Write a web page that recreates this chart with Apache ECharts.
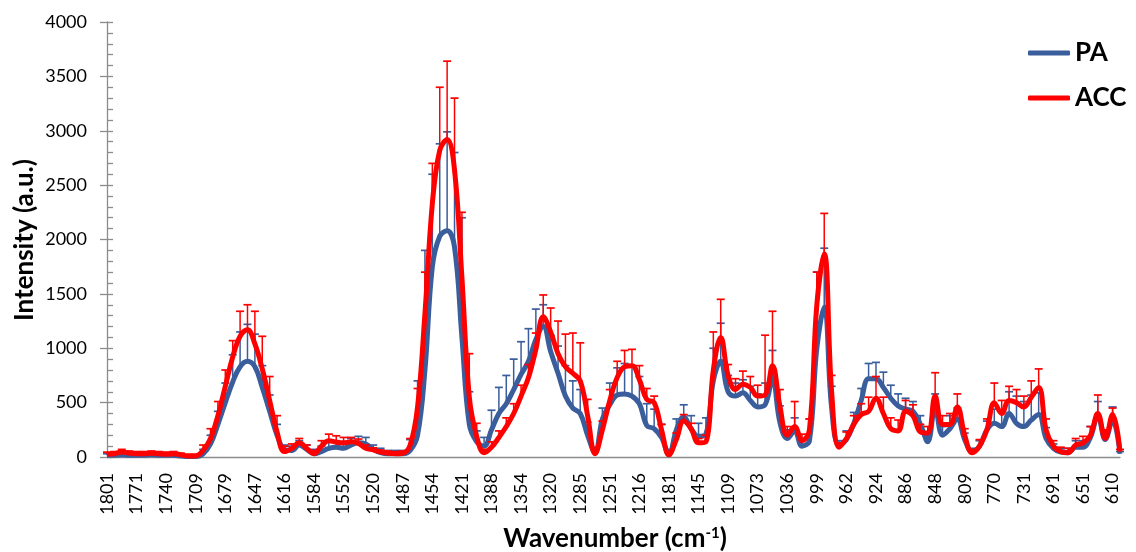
<!DOCTYPE html>
<html>
<head>
<meta charset="utf-8">
<script src="https://cdn.jsdelivr.net/npm/echarts@6/dist/echarts.min.js"></script>
<style>html,body{margin:0;padding:0;background:#fff;}#c{width:1136px;height:552px;}</style>
</head>
<body>
<div id="c"></div>
<script>
// Wavenumber tick labels (every 4th sample)
const tickLabels = ['1801','1771','1740','1709','1679','1647','1616','1584','1552','1520','1487','1454','1421','1388','1354','1320','1285','1251','1216','1181','1145','1109','1073','1036','999','962','924','886','848','809','770','731','691','651','610'];

const PA = [
15,15,20,15,15,15,20,15,15,15,
10,5,5,30,120,300,500,690,830,880,
830,640,420,200,70,60,110,70,30,50,
80,90,80,110,130,120,70,40,30,30,
30,60,200,800,1750,2030,2080,1930,1100,300,
140,100,250,400,490,620,760,880,1080,1200,
970,770,560,450,400,200,40,350,480,570,
580,560,490,290,260,180,20,250,370,260,
190,210,700,880,600,560,590,520,460,480,
720,320,170,240,100,150,1000,1380,450,110,
160,310,520,720,720,640,540,470,440,420,
300,140,460,200,260,350,160,50,100,250,
310,280,400,310,280,340,390,170,80,45,
40,90,90,180,380,160,340,30];

const PA_err = [
15,15,15,15,15,15,15,15,15,15,
15,15,15,40,80,120,180,250,320,340,
300,200,150,100,40,40,40,40,40,50,
60,60,60,60,60,60,40,40,30,30,
30,100,500,1100,850,850,910,870,1100,300,
100,80,180,240,260,280,300,300,280,200,
150,250,280,250,220,120,50,100,200,250,
280,280,250,200,180,120,50,100,110,120,
120,150,300,350,150,120,120,130,120,200,
260,150,80,120,60,200,700,540,200,40,
80,100,110,140,150,140,120,110,100,90,
80,60,120,80,120,100,60,30,50,80,
130,150,200,250,230,230,200,100,40,30,
40,60,60,100,130,80,120,20];

const ACC = [
25,30,45,35,30,30,35,30,25,30,
20,10,10,60,170,380,650,920,1110,1170,
1040,810,520,230,50,80,130,80,30,100,
150,135,130,140,125,80,65,45,35,30,
35,110,460,1320,2330,2820,2920,2640,1650,550,
190,40,90,180,280,400,560,730,990,1290,
1150,950,830,770,700,380,30,250,520,730,
830,840,710,530,500,250,20,160,330,260,
130,140,800,1100,750,620,670,640,560,570,
840,470,200,280,150,250,1400,1870,600,90,
170,300,390,420,540,400,260,240,420,380,
230,220,560,300,300,460,200,40,100,250,
500,400,520,500,460,550,640,250,100,50,
40,110,130,200,400,170,390,50];

const ACC_err = [
20,20,25,20,20,20,20,20,20,20,
15,15,15,50,90,130,150,150,230,230,
300,300,220,150,50,40,40,30,30,50,
60,60,50,40,40,30,20,20,20,20,
20,60,170,380,370,580,720,660,600,400,
120,30,50,60,80,90,100,120,150,200,
220,300,300,370,350,150,30,80,100,150,
150,150,130,100,60,50,30,60,60,50,
40,60,350,350,100,100,120,100,100,550,
500,150,80,230,60,100,300,370,150,40,
60,80,100,130,200,150,100,100,100,100,
70,60,215,80,100,120,60,30,60,100,
180,120,130,120,100,150,170,100,50,40,
40,60,60,80,170,80,60,20];

const STEP = 4;
const categories = PA.map((_, i) => String(i));

const BLUE = '#3A5D9C';
const RED = '#FF0000';

function errSeries(name, vals, errs, color, z) {
  return {
    name: name, type: 'custom', z: z, silent: true,
    data: vals.map((v, i) => [i, v, errs[i]]),
    encode: { x: 0, y: 1 },
    renderItem: function (params, api) {
      const i = api.value(0), v = api.value(1), e = api.value(2);
      const p0 = api.coord([i, v]);
      const p1 = api.coord([i, v + e]);
      return {
        type: 'group',
        children: [
          { type: 'line', shape: { x1: p0[0], y1: p0[1], x2: p1[0], y2: p1[1] }, style: { stroke: color, lineWidth: 1.5 } },
          { type: 'line', shape: { x1: p1[0] - 4, y1: p1[1], x2: p1[0] + 4, y2: p1[1] }, style: { stroke: color, lineWidth: 1.7 } }
        ]
      };
    }
  };
}

const chart = echarts.init(document.getElementById('c'), null, { renderer: 'canvas' });
chart.setOption({
  animation: false,
  backgroundColor: '#fff',
  textStyle: { fontFamily: 'Lato' },
  grid: { left: 107, right: 16, top: 22, bottom: 95 },
  legend: {
    data: ['PA', 'ACC'],
    orient: 'vertical',
    left: 1023, top: 33,
    itemWidth: 42, itemHeight: 5, itemGap: 15,
    icon: 'roundRect',
    textStyle: { fontFamily: 'Lato', fontWeight: 'bold', fontSize: 26, color: '#000', lineHeight: 30 }
  },
  xAxis: {
    type: 'category', data: categories, boundaryGap: false,
    axisLine: { lineStyle: { color: '#8c8c8c', width: 1.3 } },
    axisTick: { show: false },
    splitLine: { show: false },
    axisLabel: {
      rotate: 90, margin: 16, fontSize: 18, color: '#000', fontFamily: 'Lato',
      interval: function (idx) { return idx % STEP === 0 && idx / STEP < tickLabels.length; },
      formatter: function (v, idx) { return tickLabels[idx / STEP] || ''; }
    }
  },
  yAxis: [{
    type: 'value', min: 0, max: 4000, interval: 500,
    axisLine: { show: true, lineStyle: { color: '#8c8c8c', width: 1.3 } },
    axisTick: { show: true, inside: false, length: 7, lineStyle: { color: '#8c8c8c', width: 1.3 } },
    splitLine: { show: false },
    axisLabel: { fontSize: 18, color: '#000', margin: 20, fontFamily: 'Lato', formatter: function (v) { return String(v); } }
  }, {
    type: 'value', min: 0, max: 4000, interval: 500, position: 'left',
    axisLine: { show: false },
    axisTick: { show: true, inside: true, length: 6, lineStyle: { color: '#8c8c8c', width: 1.3 } },
    minorTick: { show: true, splitNumber: 5, length: 6, lineStyle: { color: '#8c8c8c', width: 1.3 } },
    splitLine: { show: false },
    axisLabel: { show: false }
  }],
  graphic: [{
    type: 'text',
    rotation: Math.PI / 2,
    x: 25, y: 240,
    style: { text: 'Intensity (a.u.)', font: 'bold 26px Lato', fill: '#000', textAlign: 'center', textVerticalAlign: 'middle' }
  }, {
    type: 'text', x: 615, y: 539,
    style: {
      text: 'Wavenumber (cm{s|-1})', textAlign: 'center', textVerticalAlign: 'middle',
      font: 'bold 26px Lato', fill: '#000',
      rich: { s: { fontSize: 15, fontWeight: 'bold', fontFamily: 'Lato', verticalAlign: 'top', padding: [0, 0, 11, 0] } }
    }
  }],
  series: [
    errSeries('PA err', PA, PA_err, BLUE, 1),
    { name: 'PA', type: 'line', data: PA, z: 2, smooth: 0.4, symbol: 'none', color: BLUE, lineStyle: { width: 5, color: BLUE } },
    errSeries('ACC err', ACC, ACC_err, RED, 3),
    { name: 'ACC', type: 'line', data: ACC, z: 4, smooth: 0.4, symbol: 'none', color: RED, lineStyle: { width: 5, color: RED } }
  ]
});
</script>
</body>
</html>
